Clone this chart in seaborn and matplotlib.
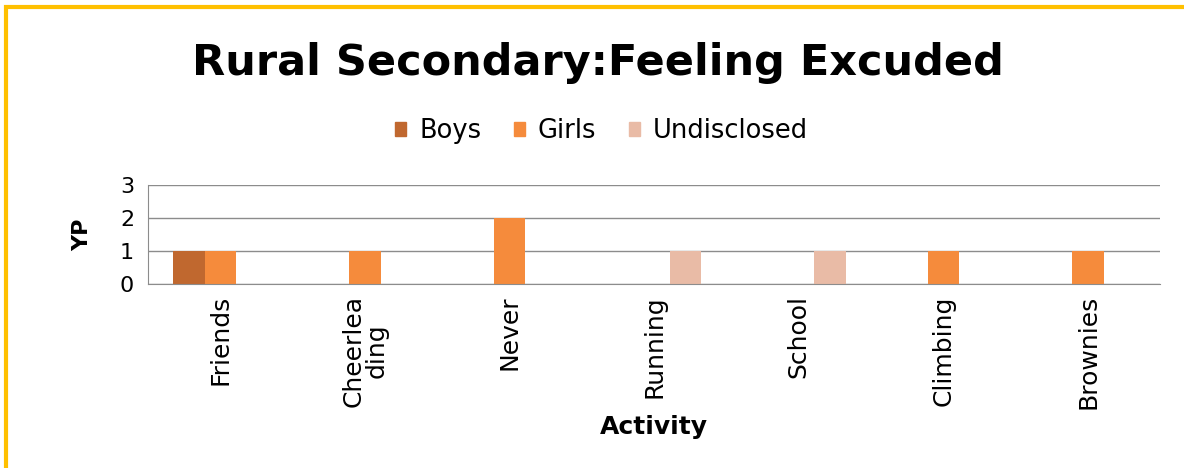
import pandas as pd
import numpy as np
import matplotlib.pyplot as plt
import seaborn as sns
from matplotlib.patches import Rectangle

activities = ["Friends", "Cheerlea\nding", "Never", "Running", "School", "Climbing", "Brownies"]
groups = ["Boys", "Girls", "Undisclosed"]
boys = [1, 0, 0, 0, 0, 0, 0]
girls = [1, 1, 2, 0, 0, 1, 1]
undisclosed = [0, 0, 0, 1, 1, 0, 0]

colors = ["#C0682F", "#F58B3C", "#E9BBA6"]

# long format for seaborn
df = pd.DataFrame({
    "Activity": activities * 3,
    "Group": [g for g in groups for _ in activities],
    "YP": boys + girls + undisclosed,
})

sns.set_style("white")
plt.rcParams["font.family"] = ["DejaVu Sans"]
plt.rcParams["text.color"] = "black"
plt.rcParams["axes.labelcolor"] = "black"
plt.rcParams["xtick.color"] = "black"
plt.rcParams["ytick.color"] = "black"

fig = plt.figure(figsize=(11.84, 4.68), dpi=100)
ax = fig.add_axes([0.125, 0.393, 0.855, 0.212])

sns.barplot(data=df, x="Activity", y="YP", hue="Group", order=activities,
            hue_order=groups, palette=colors, width=0.65, saturation=1,
            edgecolor="none", ax=ax, legend=False)

ax.set_ylim(0, 3)
ax.set_xlim(-0.5, len(activities) - 0.5)
ax.set_yticks([0, 1, 2, 3])
ax.yaxis.grid(True, color="#8c8c8c", linewidth=1)
ax.set_axisbelow(True)
for s in ["top", "right"]:
    ax.spines[s].set_visible(False)
for s in ["left", "bottom"]:
    ax.spines[s].set_color("#8c8c8c")
ax.tick_params(axis="y", labelsize=16, length=5, color="#8c8c8c", pad=5)

# category labels at centres, tick marks at the boundaries
ax.set_xticks(range(len(activities)))
ax.set_xticklabels(activities, rotation=90, fontsize=18, va="top", ha="center",
                   linespacing=0.95)
ax.tick_params(axis="x", length=0, pad=8)
ax.set_xticks(np.arange(-0.5, len(activities)), minor=True)
ax.tick_params(axis="x", which="minor", length=7, color="#8c8c8c")

ax.set_ylabel("YP", fontsize=16, fontweight="bold", labelpad=20)
ax.set_xlabel("Activity", fontsize=18, fontweight="bold", labelpad=4)

fig.text(0.505, 0.865, "Rural Secondary:Feeling Excuded", ha="center", va="center",
         fontsize=31, fontweight="bold")

handles = [Rectangle((0, 0), 1, 1, color=c) for c in colors]
fig.legend(handles, groups, loc="center", bbox_to_anchor=(0.508, 0.72), ncol=3,
           frameon=False, fontsize=18.5, handlelength=0.45, handleheight=0.45,
           columnspacing=1.25, handletextpad=0.5)

# yellow frame on left and top
fig.add_artist(Rectangle((0.005, -0.1), 1.2, 1.085, transform=fig.transFigure,
                         fill=False, edgecolor="#FFC000", linewidth=3))

fig.savefig("out.png", dpi=100)
